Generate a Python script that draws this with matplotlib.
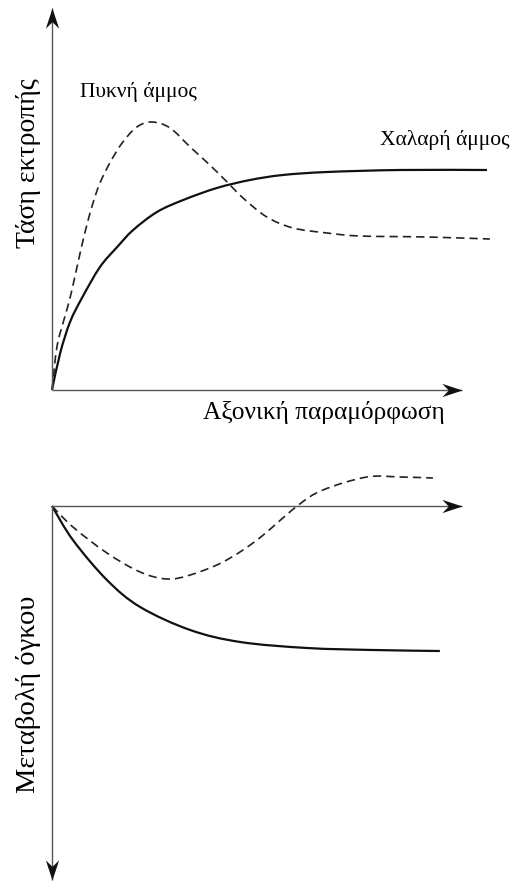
import matplotlib
matplotlib.use('Agg')
import matplotlib.pyplot as plt
import numpy as np
from matplotlib.path import Path
from matplotlib.patches import PathPatch

plt.rcParams['font.family'] = ['Liberation Serif', 'DejaVu Serif']

# axial strain (arbitrary units) shared by both diagrams
# deviator stress - dense sand (dashed)
dense_q_eps = [0, 0.12, 0.29, 0.44, 0.61, 0.80, 1.0, 1.17, 1.41, 1.71, 2.07, 2.44, 2.88,
               3.37, 3.85, 4.27, 4.66, 5.24, 5.88, 6.71, 7.51, 9.15, 10.68]
dense_q = [0, 2.15, 3.5, 4.6, 6.15, 7.85, 9.35, 10.35, 11.35, 12.35, 13.15, 13.4, 13.1,
           12.15, 11.25, 10.4, 9.6, 8.65, 8.1, 7.85, 7.7, 7.65, 7.55]

# deviator stress - loose sand (solid)
loose_q_eps = [0, 0.2, 0.44, 0.73, 1.17, 1.59, 1.98, 2.56, 3.20, 4.02, 4.83, 5.63, 6.71, 8.49, 10.61]
loose_q = [0, 1.85, 3.4, 4.6, 6.15, 7.15, 8.0, 8.9, 9.5, 10.1, 10.5, 10.75, 10.9, 11.0, 11.0]

# volume change - dense sand (dashed)
dense_v_eps = [0, 0.51, 1.34, 2.15, 2.80, 3.37, 4.17, 5.0, 5.98, 6.61, 7.68, 8.49, 9.29]
dense_v = [0, -1.05, -2.35, -3.3, -3.65, -3.45, -2.8, -1.7, 0, 0.8, 1.45, 1.45, 1.4]

# volume change - loose sand (solid)
loose_v_eps = [0, 0.51, 1.34, 2.15, 3.37, 4.59, 6.22, 7.83, 9.46]
loose_v = [0, -1.7, -3.7, -5.05, -6.2, -6.8, -7.1, -7.2, -7.25]


def smooth_path(xs, ys):
    # Catmull-Rom through the points, written as cubic bezier segments
    p = np.column_stack([xs, ys]).astype(float)
    ext = np.vstack([p[0], p, p[-1]])
    verts = [p[0]]
    codes = [Path.MOVETO]
    for i in range(1, len(ext) - 2):
        p0, p1, p2, p3 = ext[i - 1], ext[i], ext[i + 1], ext[i + 2]
        verts += [p1 + (p2 - p0) / 6, p2 - (p3 - p1) / 6, p2]
        codes += [Path.CURVE4] * 3
    return Path(verts, codes)


def draw_curve(ax, xs, ys, **kw):
    ax.add_patch(PathPatch(smooth_path(xs, ys), fill=False, capstyle='butt', **kw))


# stealth arrow heads, tip at the marker position
def head(dx, dy):
    pts = np.array([(0, 0), (-1, 0.33), (-0.68, 0), (-1, -0.33), (0, 0)])
    rot = np.array([[dx, -dy], [dy, dx]])
    return Path(pts @ rot.T, [Path.MOVETO] + [Path.LINETO] * 3 + [Path.CLOSEPOLY])


def axis_arrow(ax, x0, y0, x1, y1, dx, dy):
    ax.plot([x0, x1], [y0, y1], color='#555555', lw=1.0, solid_capstyle='butt')
    ax.plot([x1], [y1], marker=head(dx, dy), markersize=29, color='#111111', mew=0)


fig = plt.figure(figsize=(5.13, 8.85), dpi=100)
ax1 = fig.add_axes([0, 445 / 885, 1, 440 / 885])
ax2 = fig.add_axes([0, 0, 1, 445 / 885])

xlim = (-52 / 41, 461 / 41)
ax1.set_xlim(*xlim)
ax1.set_ylim(-2.5, 19.5)
ax2.set_xlim(*xlim)
ax2.set_ylim(-18.95, 3.3)
for ax in (ax1, ax2):
    ax.set_axis_off()

# top diagram: stress - strain
axis_arrow(ax1, 0, 0, 0, 19.1, 0, 1)
axis_arrow(ax1, 0, 0, 10.0, 0, 1, 0)
draw_curve(ax1, loose_q_eps, loose_q, color='#111111', lw=1.6)
draw_curve(ax1, dense_q_eps, dense_q, color='#222222', lw=1.2, linestyle=(0, (5, 3)))

ax1.text(-0.585, 11.35, 'Τάση εκτροπής', rotation=90, ha='center', va='center', fontsize=20)
ax1.text(9.59, -1.1, 'Αξονική παραμόρφωση', ha='right', va='center', fontsize=18.3)
ax1.text(0.68, 14.9, 'Πυκνή άμμος', ha='left', va='center', fontsize=15.5)
ax1.text(11.17, 12.5, 'Χαλαρή άμμος', ha='right', va='center', fontsize=15.5)

# bottom diagram: volume change - strain
axis_arrow(ax2, 0, 0, 10.0, 0, 1, 0)
axis_arrow(ax2, 0, 0, 0, -18.7, 0, -1)
draw_curve(ax2, loose_v_eps, loose_v, color='#111111', lw=1.6)
draw_curve(ax2, dense_v_eps, dense_v, color='#222222', lw=1.2, linestyle=(0, (5, 3)))

ax2.text(-0.585, -9.4, 'Μεταβολή όγκου', rotation=90, ha='center', va='center', fontsize=20.5)

fig.savefig('out.png', dpi=100, facecolor='white')
